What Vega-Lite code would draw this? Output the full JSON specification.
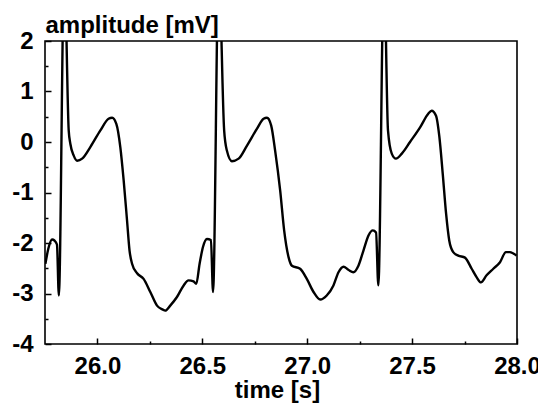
{
  "$schema": "https://vega.github.io/schema/vega-lite/v6.json",
  "width": 472,
  "height": 303,
  "autosize": "none",
  "padding": {"left": 45, "top": 41, "right": 21, "bottom": 60},
  "background": "white",
  "config": {
    "view": {"stroke": "black", "strokeWidth": 1.6},
    "font": "Liberation Sans",
    "axis": {
      "domain": false,
      "grid": false,
      "labelFont": "Liberation Sans",
      "labelFontSize": 24,
      "labelFontWeight": "bold",
      "labelColor": "black",
      "labelFlush": false,
      "labelOverlap": false,
      "tickColor": "black",
      "tickWidth": 1.5,
      "titleFont": "Liberation Sans",
      "titleFontSize": 24,
      "titleFontWeight": "bold",
      "titleColor": "black"
    }
  },
  "data": {
    "values": [
      {"t": 25.752, "v": -2.41},
      {"t": 25.766, "v": -2.11},
      {"t": 25.784, "v": -1.93},
      {"t": 25.795, "v": -1.95},
      {"t": 25.807, "v": -2.03},
      {"t": 25.816, "v": -3.04},
      {"t": 25.842, "v": 3.5},
      {"t": 25.863, "v": 0.23},
      {"t": 25.871, "v": -0.04},
      {"t": 25.887, "v": -0.27},
      {"t": 25.903, "v": -0.37},
      {"t": 25.927, "v": -0.33},
      {"t": 25.966, "v": -0.1},
      {"t": 26.014, "v": 0.23},
      {"t": 26.053, "v": 0.46},
      {"t": 26.07, "v": 0.48},
      {"t": 26.09, "v": 0.36},
      {"t": 26.109, "v": -0.1},
      {"t": 26.125, "v": -0.76},
      {"t": 26.141, "v": -1.55},
      {"t": 26.153, "v": -2.15},
      {"t": 26.165, "v": -2.41},
      {"t": 26.189, "v": -2.6},
      {"t": 26.22, "v": -2.71},
      {"t": 26.252, "v": -2.97},
      {"t": 26.284, "v": -3.24},
      {"t": 26.312, "v": -3.32},
      {"t": 26.323, "v": -3.34},
      {"t": 26.347, "v": -3.24},
      {"t": 26.379, "v": -3.07},
      {"t": 26.411, "v": -2.84},
      {"t": 26.434, "v": -2.74},
      {"t": 26.458, "v": -2.76},
      {"t": 26.471, "v": -2.81},
      {"t": 26.487, "v": -2.41},
      {"t": 26.503, "v": -2.08},
      {"t": 26.522, "v": -1.92},
      {"t": 26.541, "v": -1.94},
      {"t": 26.551, "v": -2.97},
      {"t": 26.578, "v": 3.5},
      {"t": 26.604, "v": 0.23},
      {"t": 26.617, "v": -0.17},
      {"t": 26.641, "v": -0.38},
      {"t": 26.673, "v": -0.33},
      {"t": 26.713, "v": -0.07},
      {"t": 26.76, "v": 0.26},
      {"t": 26.792, "v": 0.46},
      {"t": 26.808, "v": 0.48},
      {"t": 26.828, "v": 0.33},
      {"t": 26.847, "v": -0.17},
      {"t": 26.871, "v": -0.96},
      {"t": 26.89, "v": -1.75},
      {"t": 26.911, "v": -2.28},
      {"t": 26.927, "v": -2.45},
      {"t": 26.966, "v": -2.51},
      {"t": 26.998, "v": -2.71},
      {"t": 27.03, "v": -2.97},
      {"t": 27.062, "v": -3.12},
      {"t": 27.093, "v": -3.04},
      {"t": 27.125, "v": -2.84},
      {"t": 27.149, "v": -2.58},
      {"t": 27.173, "v": -2.47},
      {"t": 27.196, "v": -2.53},
      {"t": 27.22, "v": -2.58},
      {"t": 27.244, "v": -2.45},
      {"t": 27.268, "v": -2.15},
      {"t": 27.292, "v": -1.85},
      {"t": 27.313, "v": -1.75},
      {"t": 27.328, "v": -1.79},
      {"t": 27.339, "v": -2.84},
      {"t": 27.366, "v": 3.5},
      {"t": 27.385, "v": 0.23},
      {"t": 27.403, "v": -0.23},
      {"t": 27.423, "v": -0.33},
      {"t": 27.451, "v": -0.23},
      {"t": 27.49, "v": 0.0},
      {"t": 27.538, "v": 0.29},
      {"t": 27.577, "v": 0.56},
      {"t": 27.593, "v": 0.62},
      {"t": 27.614, "v": 0.52},
      {"t": 27.63, "v": 0.1},
      {"t": 27.646, "v": -0.63},
      {"t": 27.662, "v": -1.42},
      {"t": 27.677, "v": -1.95},
      {"t": 27.696, "v": -2.18},
      {"t": 27.72, "v": -2.25},
      {"t": 27.752, "v": -2.29},
      {"t": 27.784, "v": -2.51},
      {"t": 27.808, "v": -2.68},
      {"t": 27.828, "v": -2.78},
      {"t": 27.855, "v": -2.64},
      {"t": 27.887, "v": -2.51},
      {"t": 27.919, "v": -2.38},
      {"t": 27.947, "v": -2.18},
      {"t": 27.966, "v": -2.18},
      {"t": 27.998, "v": -2.25}
    ]
  },
  "mark": {"type": "line", "color": "black", "strokeWidth": 2.4, "clip": true, "interpolate": "monotone"},
  "encoding": {
    "x": {
      "field": "t",
      "type": "quantitative",
      "scale": {"domain": [25.75, 28.0], "nice": false, "zero": false},
      "axis": {
        "title": "time [s]",
        "values": [26.0, 26.25, 26.5, 26.75, 27.0, 27.25, 27.5, 27.75, 28.0],
        "labelExpr": "datum.value % 0.5 === 0 ? format(datum.value, '.1f') : ''",
        "tickSize": {"condition": {"test": "datum.value % 0.5 === 0", "value": -6}, "value": -3},
        "labelPadding": 16,
        "titleX": 232,
        "titleY": 53,
        "titleAlign": "center",
        "titleBaseline": "alphabetic",
        "titleAnchor": null
      }
    },
    "y": {
      "field": "v",
      "type": "quantitative",
      "scale": {"domain": [-4, 2], "nice": false, "zero": false},
      "axis": {
        "title": "amplitude [mV]",
        "values": [-4, -3.5, -3, -2.5, -2, -1.5, -1, -0.5, 0, 0.5, 1, 1.5, 2],
        "labelExpr": "datum.value % 1 === 0 ? '' + datum.value : ''",
        "tickSize": {"condition": {"test": "datum.value % 1 === 0", "value": -6}, "value": -3},
        "labelPadding": 18,
        "titleAngle": 0,
        "titleX": 0,
        "titleY": -9,
        "titleAlign": "left",
        "titleBaseline": "alphabetic",
        "titleAnchor": null
      }
    }
  }
}
